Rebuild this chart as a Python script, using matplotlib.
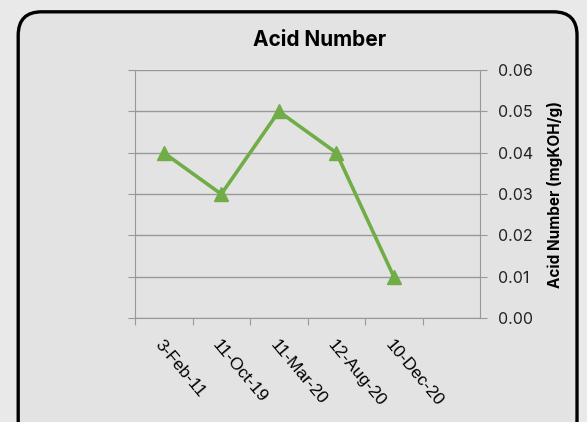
"""
Acid Number over sampling dates
"""
import numpy as np
import matplotlib.pyplot as plt
from matplotlib.patches import FancyBboxPatch

dates = ["3-Feb-11", "11-Oct-19", "11-Mar-20", "12-Aug-20", "10-Dec-20"]
acid_number = [0.04, 0.03, 0.05, 0.04, 0.01]
y_ticks = [0.00, 0.01, 0.02, 0.03, 0.04, 0.05, 0.06]

plt.rcParams['font.family'] = ['Inter', 'DejaVu Sans']

fig = plt.figure(figsize=(5.87, 4.22), dpi=100)
fig.patch.set_facecolor("#e9e9e9")

# rounded frame around the chart, kept behind the axes
frame = FancyBboxPatch((0.031, -0.05), 0.952, 1.022,
                       boxstyle="round,pad=0,rounding_size=0.04",
                       transform=fig.transFigure, facecolor="#e3e3e3",
                       edgecolor="black", linewidth=2.4,
                       mutation_aspect=587 / 422, zorder=-1)
fig.add_artist(frame)

ax = fig.add_axes([0.230, 0.246, 0.588, 0.588])
ax.set_facecolor("none")

x = np.arange(len(dates))
ax.plot(x, acid_number, color="#70ad47", linewidth=2.6, marker="^",
        markersize=10, zorder=3)

ax.set_xlim(-0.5, len(dates) + 0.5)
ax.set_ylim(0, 0.06)
ax.set_yticks(y_ticks)
ax.set_yticklabels([f"{v:.2f}" for v in y_ticks], fontsize=11.5, color="#222222")
ax.yaxis.tick_right()
ax.yaxis.set_label_position("right")
ax.tick_params(axis="y", which="both", left=True, right=True, length=5,
               color="#999999", pad=8, direction="out")
ax.grid(axis="y", color="#999999", linewidth=1)
ax.set_axisbelow(True)

# category boundaries get tick marks, labels sit in the middle of each slot
ax.set_xticks(np.arange(-0.5, len(dates) + 0.5, 1.0))
ax.set_xticklabels([])
ax.set_xticks(x, minor=True)
ax.set_xticklabels(dates, minor=True, rotation=-50, ha="left", va="top",
                   rotation_mode="anchor", fontsize=12.5, color="#000000",
                   family=["Liberation Sans", "DejaVu Sans"])
ax.tick_params(axis="x", which="major", length=5, color="#999999")
ax.tick_params(axis="x", which="minor", length=0, pad=14)

ax.spines["top"].set_visible(False)
for side in ["left", "right", "bottom"]:
    ax.spines[side].set_color("#999999")

ax.set_title("Acid Number", fontsize=15, fontweight="bold", pad=17, x=0.535)
ax.set_ylabel("Acid Number (mgKOH/g)", fontsize=11, fontweight="bold",
              labelpad=10, rotation=90)

plt.savefig("out.png", dpi=100)
